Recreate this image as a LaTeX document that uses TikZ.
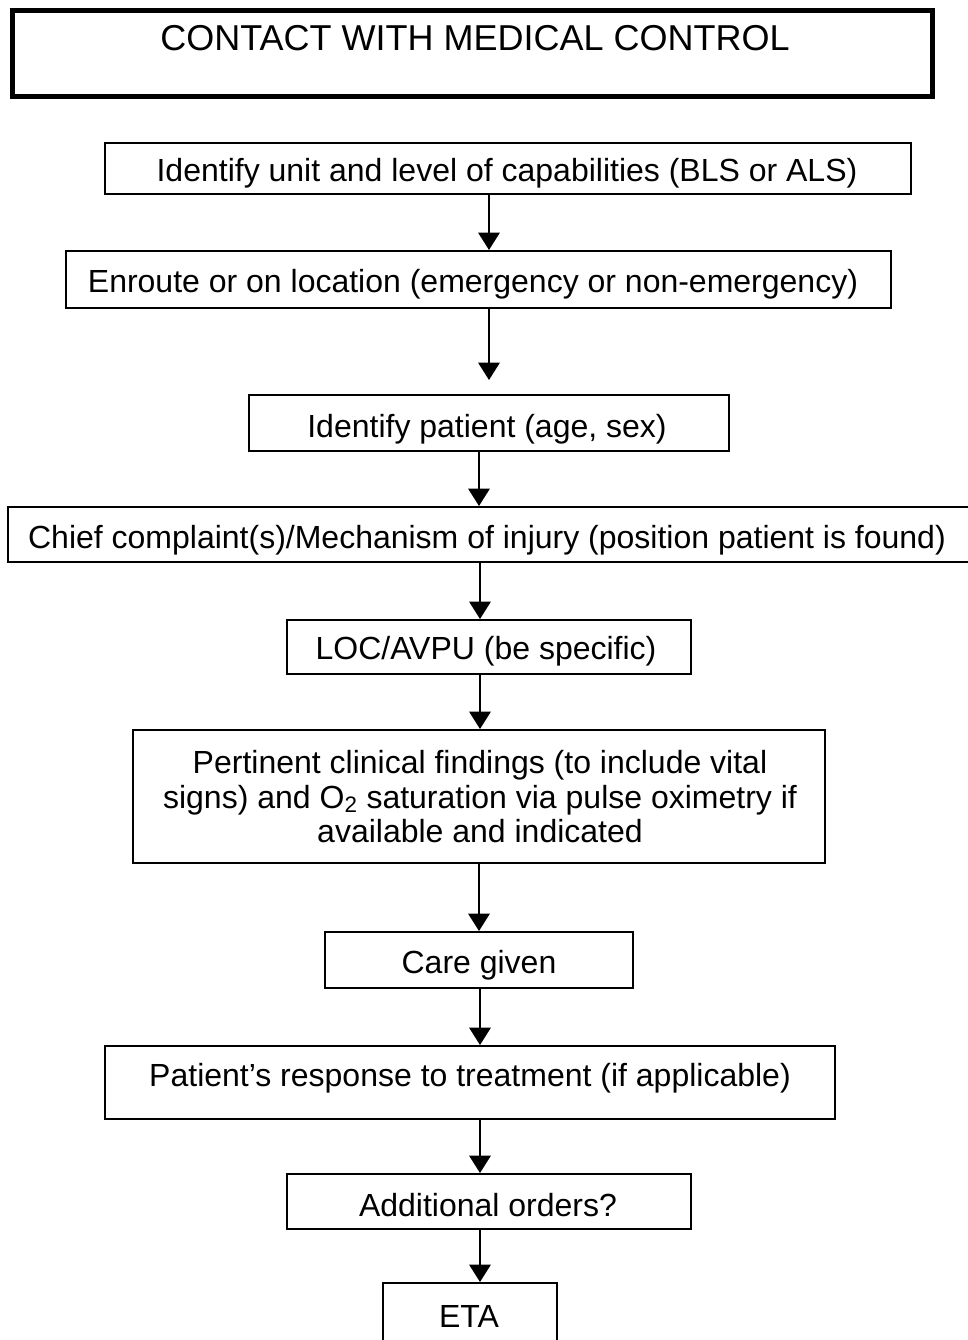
\documentclass[tikz,border=0pt]{standalone}
\usepackage{fontspec}
\setmainfont{Liberation Sans}
\usetikzlibrary{arrows.meta}

\begin{document}
\begin{tikzpicture}[x=0.75pt,y=-0.75pt,
  stepbox/.style={draw=black,line width=1.5pt,inner sep=0pt,rectangle},
  titlebox/.style={draw=black,line width=3.75pt,inner sep=0pt,rectangle},
  lbl/.style={anchor=base,inner sep=0pt,font=\fontsize{24}{29}\selectfont},
  flow/.style={line width=1.5pt,-{Triangle[length=13pt,width=16pt]}}
]
\useasboundingbox (0,0) rectangle (968,1340);

% boxes: centre and size in pixel units
\newcommand{\flowbox}[6]{%
  \node[#2,minimum width={(#5-#3)*0.75pt},minimum height={(#6-#4)*0.75pt}]
    (#1) at ({(#3+#5)/2},{(#4+#6)/2}) {};}

\flowbox{b1}{titlebox}{12}{10}{932}{96}
\flowbox{b2}{stepbox}{105}{143}{911}{194}
\flowbox{b3}{stepbox}{66}{251}{891}{308}
\flowbox{b4}{stepbox}{249}{395}{729}{451}
\flowbox{b5}{stepbox}{8}{507}{980}{562}
\flowbox{b6}{stepbox}{287}{620}{691}{674}
\flowbox{b7}{stepbox}{133}{730}{825}{863}
\flowbox{b8}{stepbox}{325}{932}{633}{988}
\flowbox{b9}{stepbox}{105}{1046}{835}{1119}
\flowbox{b10}{stepbox}{287}{1174}{691}{1229}
\flowbox{b11}{stepbox}{383}{1283}{557}{1362}

% texts
\node[lbl,font=\fontsize{27}{32}\selectfont] (t1) at (475,50) {CONTACT WITH MEDICAL CONTROL};
\node[lbl] (t2) at (507,181) {Identify unit and level of capabilities (BLS or ALS)};
\node[lbl] (t3) at (473,292) {Enroute or on location (emergency or non-emergency)};
\node[lbl] (t4) at (487,437) {Identify patient (age, sex)};
\node[lbl] (t5) at (487,548) {Chief complaint(s)/Mechanism of injury (position patient is found)};
\node[lbl] (t6) at (486,659) {LOC/AVPU (be specific)};
\node[lbl] (t7a) at (480,773) {Pertinent clinical findings (to include vital};
\node[lbl] (t7b) at (480,808) {signs) and O\textsubscript{2} saturation via pulse oximetry if};
\node[lbl] (t7c) at (480,842) {available and indicated};
\node[lbl] (t8) at (479,973) {Care given};
\node[lbl] (t9) at (470,1086) {Patient’s response to treatment (if applicable)};
\node[lbl] (t10) at (488,1216) {Additional orders?};
\node[lbl] (t11) at (469,1327) {ETA};

% connectors
\coordinate (c3) at (489,380);
\draw[flow] (b2.south -| 489,0) -- (b3.north -| 489,0);
\draw[flow] (b3.south -| 489,0) -- (c3);
\draw[flow] (b4.south -| 479,0) -- (b5.north -| 479,0);
\draw[flow] (b5.south -| 480,0) -- (b6.north -| 480,0);
\draw[flow] (b6.south -| 480,0) -- (b7.north -| 480,0);
\draw[flow] (b7.south -| 479,0) -- (b8.north -| 479,0);
\draw[flow] (b8.south -| 480,0) -- (b9.north -| 480,0);
\draw[flow] (b9.south -| 480,0) -- (b10.north -| 480,0);
\draw[flow] (b10.south -| 480,0) -- (b11.north -| 480,0);
\end{tikzpicture}
\end{document}
